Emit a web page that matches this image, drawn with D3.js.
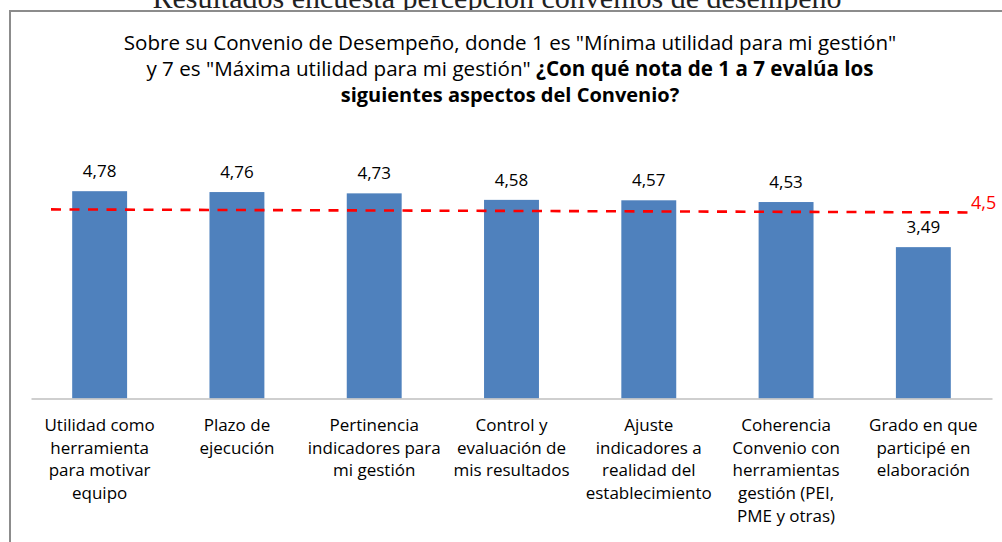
<!DOCTYPE html>
<html>
<head>
<meta charset="utf-8">
<script src="https://cdn.jsdelivr.net/npm/d3@7"></script>
<style>
  html, body { margin: 0; padding: 0; background: #fff; }
  svg { display: block; }
  .cat, .val, .title { font-family: "Open Sans", Lato, sans-serif; fill: #000; }
</style>
</head>
<body>
<div id="chart"></div>
<script>
// ---- data ----
const pageTitle = "Resultados encuesta percepción convenios de desempeño";
const titleLine1 = 'Sobre su Convenio de Desempeño, donde 1 es "Mínima utilidad para mi gestión"';
const titleLine2Plain = 'y 7 es "Máxima utilidad para mi gestión" ';
const titleLine2Bold = '¿Con qué nota de 1 a 7 evalúa los';
const titleLine3Bold = 'siguientes aspectos del Convenio?';

const categories = [
  ["Utilidad como", "herramienta", "para motivar", "equipo"],
  ["Plazo de", "ejecución"],
  ["Pertinencia", "indicadores para", "mi gestión"],
  ["Control y", "evaluación de", "mis resultados"],
  ["Ajuste", "indicadores a", "realidad del", "establecimiento"],
  ["Coherencia", "Convenio con", "herramientas", "gestión (PEI,", "PME y otras)"],
  ["Grado en que", "participé en", "elaboración"]
];
const values = [4.78, 4.76, 4.73, 4.58, 4.57, 4.53, 3.49];
const refLabel = "4,5";
const refEnds = [4.36, 4.29];   // the hand drawn line sits a bit low and slopes

// ---- layout ----
const W = 1002, H = 542;
const plotLeft = 31, plotRight = 992;
const baseY = 398.5, pxPerUnit = 43.37;
const fmt = v => String(v).replace(".", ",");

const svg = d3.select("#chart").append("svg")
  .attr("width", W).attr("height", H);

// page heading, cut off by the top edge
svg.append("text")
  .attr("x", 497).attr("y", 8)
  .attr("text-anchor", "middle")
  .style("font-family", "'Liberation Serif', serif")
  .style("font-size", "30px")
  .style("fill", "#222")
  .text(pageTitle);

// chart box
svg.append("rect")
  .attr("x", 10).attr("y", 11)
  .attr("width", 1010).attr("height", 560)
  .attr("fill", "#fff")
  .attr("stroke", "#8c8c8c")
  .attr("stroke-width", 2);

// title
const t = svg.append("g").attr("class", "title")
  .attr("text-anchor", "middle")
  .style("font-size", "20.6px");
t.append("text").attr("x", 510).attr("y", 50).text(titleLine1);
const l2 = t.append("text").attr("x", 510).attr("y", 76);
l2.append("tspan").text(titleLine2Plain);
l2.append("tspan").style("font-weight", "bold").text(titleLine2Bold);
t.append("text").attr("x", 510).attr("y", 102)
  .style("font-weight", "bold").style("font-size", "20px").text(titleLine3Bold);

// scales
const x = d3.scaleBand()
  .domain(d3.range(categories.length))
  .range([plotLeft, plotRight])
  .paddingInner(0.6)
  .paddingOuter(0.3);

const y = d3.scaleLinear()
  .domain([0, 7])
  .range([baseY, baseY - 7 * pxPerUnit]);

// bars
svg.selectAll(".bar")
  .data(values)
  .enter().append("rect")
  .attr("class", "bar")
  .attr("x", (d, i) => x(i))
  .attr("y", d => y(d))
  .attr("width", x.bandwidth())
  .attr("height", d => y(0) - y(d))
  .attr("fill", "#4f81bd");

// baseline axis
const xAxis = d3.axisBottom(x).tickSize(0).tickFormat("");
const axG = svg.append("g")
  .attr("transform", "translate(0," + y(0) + ")")
  .call(xAxis);
axG.select(".domain").attr("stroke", "#bfbfbf").attr("stroke-width", 1.5);

// value labels
svg.selectAll(".val")
  .data(values)
  .enter().append("text")
  .attr("class", "val")
  .attr("x", (d, i) => x(i) + x.bandwidth() / 2)
  .attr("y", d => y(d) - 14)
  .attr("text-anchor", "middle")
  .style("font-size", "17px")
  .text(d => fmt(d));

// category labels
const cg = svg.selectAll(".cat")
  .data(categories)
  .enter().append("text")
  .attr("class", "cat")
  .attr("text-anchor", "middle")
  .style("font-size", "17px");
cg.selectAll("tspan")
  .data(d => d)
  .enter().append("tspan")
  .attr("x", function() {
    const i = categories.indexOf(d3.select(this.parentNode).datum());
    return x(i) + x.bandwidth() / 2;
  })
  .attr("y", (d, j) => 431 + j * 22.7)
  .text(d => d);

// reference line
const refX0 = 51, refX1 = 968;
svg.append("line")
  .attr("x1", refX0).attr("y1", y(refEnds[0]))
  .attr("x2", refX1).attr("y2", y(refEnds[1]))
  .attr("stroke", "#ff0000")
  .attr("stroke-width", 2.6)
  .attr("stroke-dasharray", "10,8.5");

svg.append("text")
  .attr("x", 971).attr("y", y(refEnds[1]) - 3)
  .style("font-family", "'Open Sans', sans-serif")
  .style("font-size", "18px")
  .style("fill", "#ff0000")
  .text(refLabel);
</script>
</body>
</html>
